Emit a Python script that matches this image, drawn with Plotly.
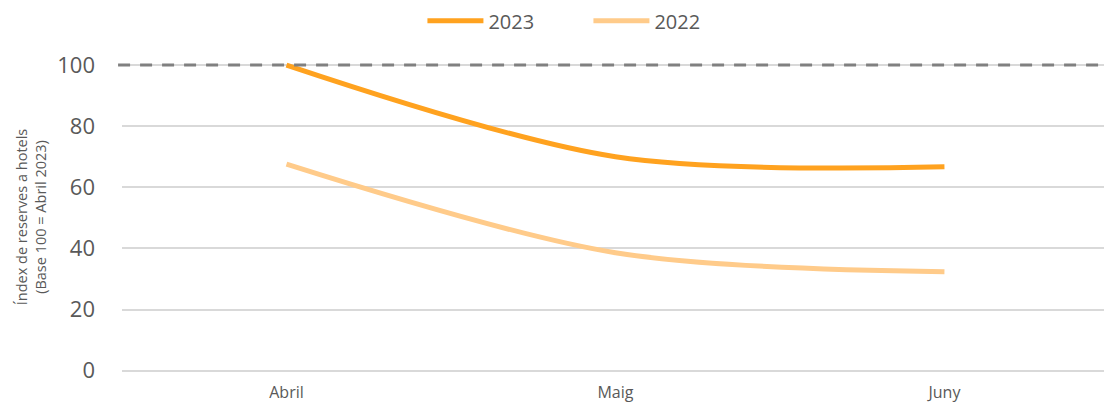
import plotly.graph_objects as go

months = ["Abril", "Maig", "Juny"]
s2023 = [100, 70.0, 66.7]
s2022 = [67.6, 38.6, 32.4]
ref_level = 100
y_ticks = [0, 20, 40, 60, 80, 100]

TXT = "#595959"
FONT = "Open Sans"

fig = go.Figure()
fig.add_trace(go.Scatter(x=months, y=s2023, name="2023", mode="lines",
                         line=dict(color="#FFA21F", width=5, shape="spline", smoothing=0.9)))
fig.add_trace(go.Scatter(x=months, y=s2022, name="2022", mode="lines",
                         line=dict(color="#FFCB8A", width=5, shape="spline", smoothing=0.9)))

fig.add_shape(type="line", xref="paper", yref="y", x0=-0.004, x1=0.995,
              y0=ref_level, y1=ref_level,
              line=dict(color="#808080", width=3, dash="12px,10px"))

fig.update_layout(
    width=1104, height=407,
    margin=dict(l=122, r=0, t=62, b=35),
    paper_bgcolor="white", plot_bgcolor="white",
    font=dict(family=FONT, color=TXT),
    showlegend=True,
    legend=dict(orientation="h", x=0.533, xanchor="center", xref="container",
                y=0.997, yanchor="top", yref="container",
                font=dict(size=20, color=TXT, family=FONT),
                itemwidth=56, traceorder="normal", entrywidth=95,
                entrywidthmode="pixels"),
    xaxis=dict(type="category", range=[-0.5, 2.485], showgrid=False, zeroline=False,
               showline=False, ticks="", ticklabelstandoff=9, automargin=False,
               tickfont=dict(size=16, color=TXT, family=FONT)),
    yaxis=dict(range=[-0.4, 101], tickvals=y_ticks, showgrid=True, gridcolor="#D9D9D9",
               gridwidth=1.5, zeroline=False, showline=False, ticks="",
               tickfont=dict(size=22, color=TXT, family=FONT), ticklabelstandoff=26,
               title=dict(text="Índex de reserves a hotels<br>(Base 100 = Abril 2023)",
                          font=dict(size=14.5, color=TXT, family=FONT), standoff=7)),
)

fig.write_html("out.html", config={"displayModeBar": False},
               post_script="document.body.style.margin='0';")
